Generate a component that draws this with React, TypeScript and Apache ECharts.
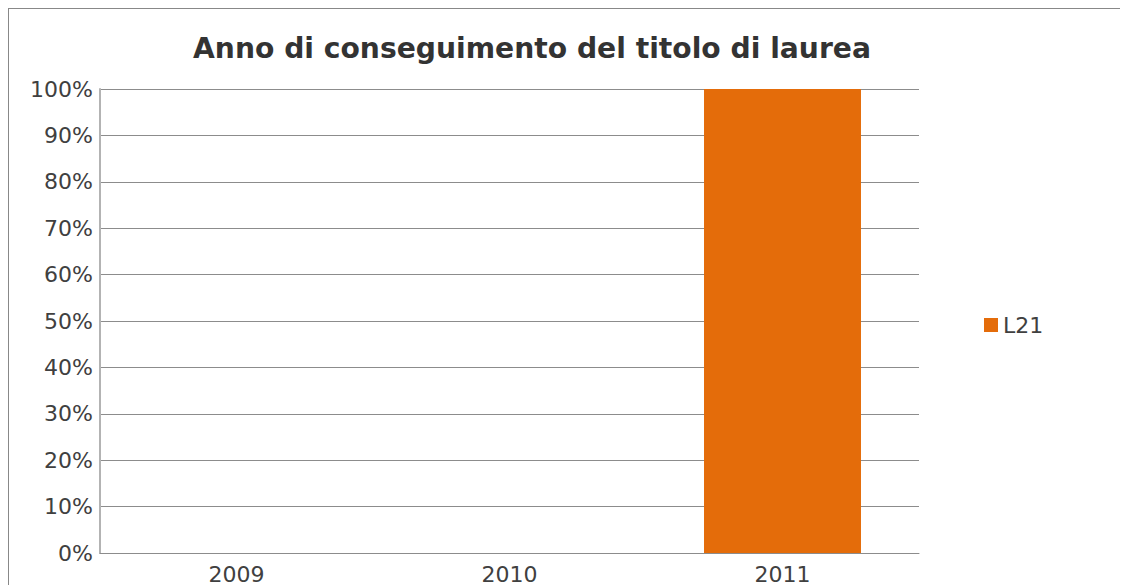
import React, { useEffect, useRef } from "react";
import * as echarts from "echarts";

const categories = ["2009", "2010", "2011"];
const seriesName = "L21";
const values = [0, 0, 1];
const titleText = "Anno di conseguimento del titolo di laurea";

export default function App() {
  const ref = useRef<HTMLDivElement>(null);
  useEffect(() => {
    if (!ref.current) return;
    const chart = echarts.init(ref.current, null, { renderer: "svg" });
    const font = "'DejaVu Sans', sans-serif";
    chart.setOption({
      animation: false,
      textStyle: { fontFamily: font },
      title: {
        text: titleText,
        left: 184,
        top: 25,
        padding: 0,
        textStyle: { fontFamily: font, fontSize: 28.2, fontWeight: "bold", color: "#333333" },
      },
      legend: {
        data: [seriesName],
        left: 970,
        top: 300,
        orient: "vertical",
        icon: "rect",
        itemWidth: 14,
        itemHeight: 14,
        itemGap: 8,
        textStyle: { fontFamily: font, fontSize: 22, color: "#404040" },
      },
      grid: { left: 91, top: 80, width: 819, height: 464, containLabel: false },
      xAxis: {
        type: "category",
        data: categories,
        axisLine: { show: true, lineStyle: { color: "#8c8c8c", width: 1 } },
        axisTick: { show: false },
        axisLabel: { fontFamily: font, fontSize: 22, color: "#404040", margin: 10 },
      },
      yAxis: {
        type: "value",
        min: 0,
        max: 1,
        interval: 0.1,
        axisLine: { show: true, lineStyle: { color: "#b3b3b3", width: 2 } },
        axisTick: { show: false },
        splitLine: { show: true, lineStyle: { color: "#8c8c8c", width: 1 } },
        axisLabel: {
          fontFamily: font,
          fontSize: 22,
          color: "#404040",
          margin: 7,
          formatter: (v: number) => Math.round(v * 100) + "%",
        },
      },
      series: [
        {
          name: seriesName,
          type: "bar",
          data: values,
          barWidth: "57.5%",
          itemStyle: { color: "#E46C0A" },
        },
      ],
    });
    return () => chart.dispose();
  }, []);
  return (
    <div
      style={{
        width: 1114,
        height: 577,
        boxSizing: "border-box",
        borderTop: "1px solid #888",
        borderLeft: "1px solid #888",
        borderRight: "1px solid #888",
        overflow: "hidden",
      }}
    >
      <div ref={ref} style={{ width: 1112, height: 600 }} />
    </div>
  );
}
